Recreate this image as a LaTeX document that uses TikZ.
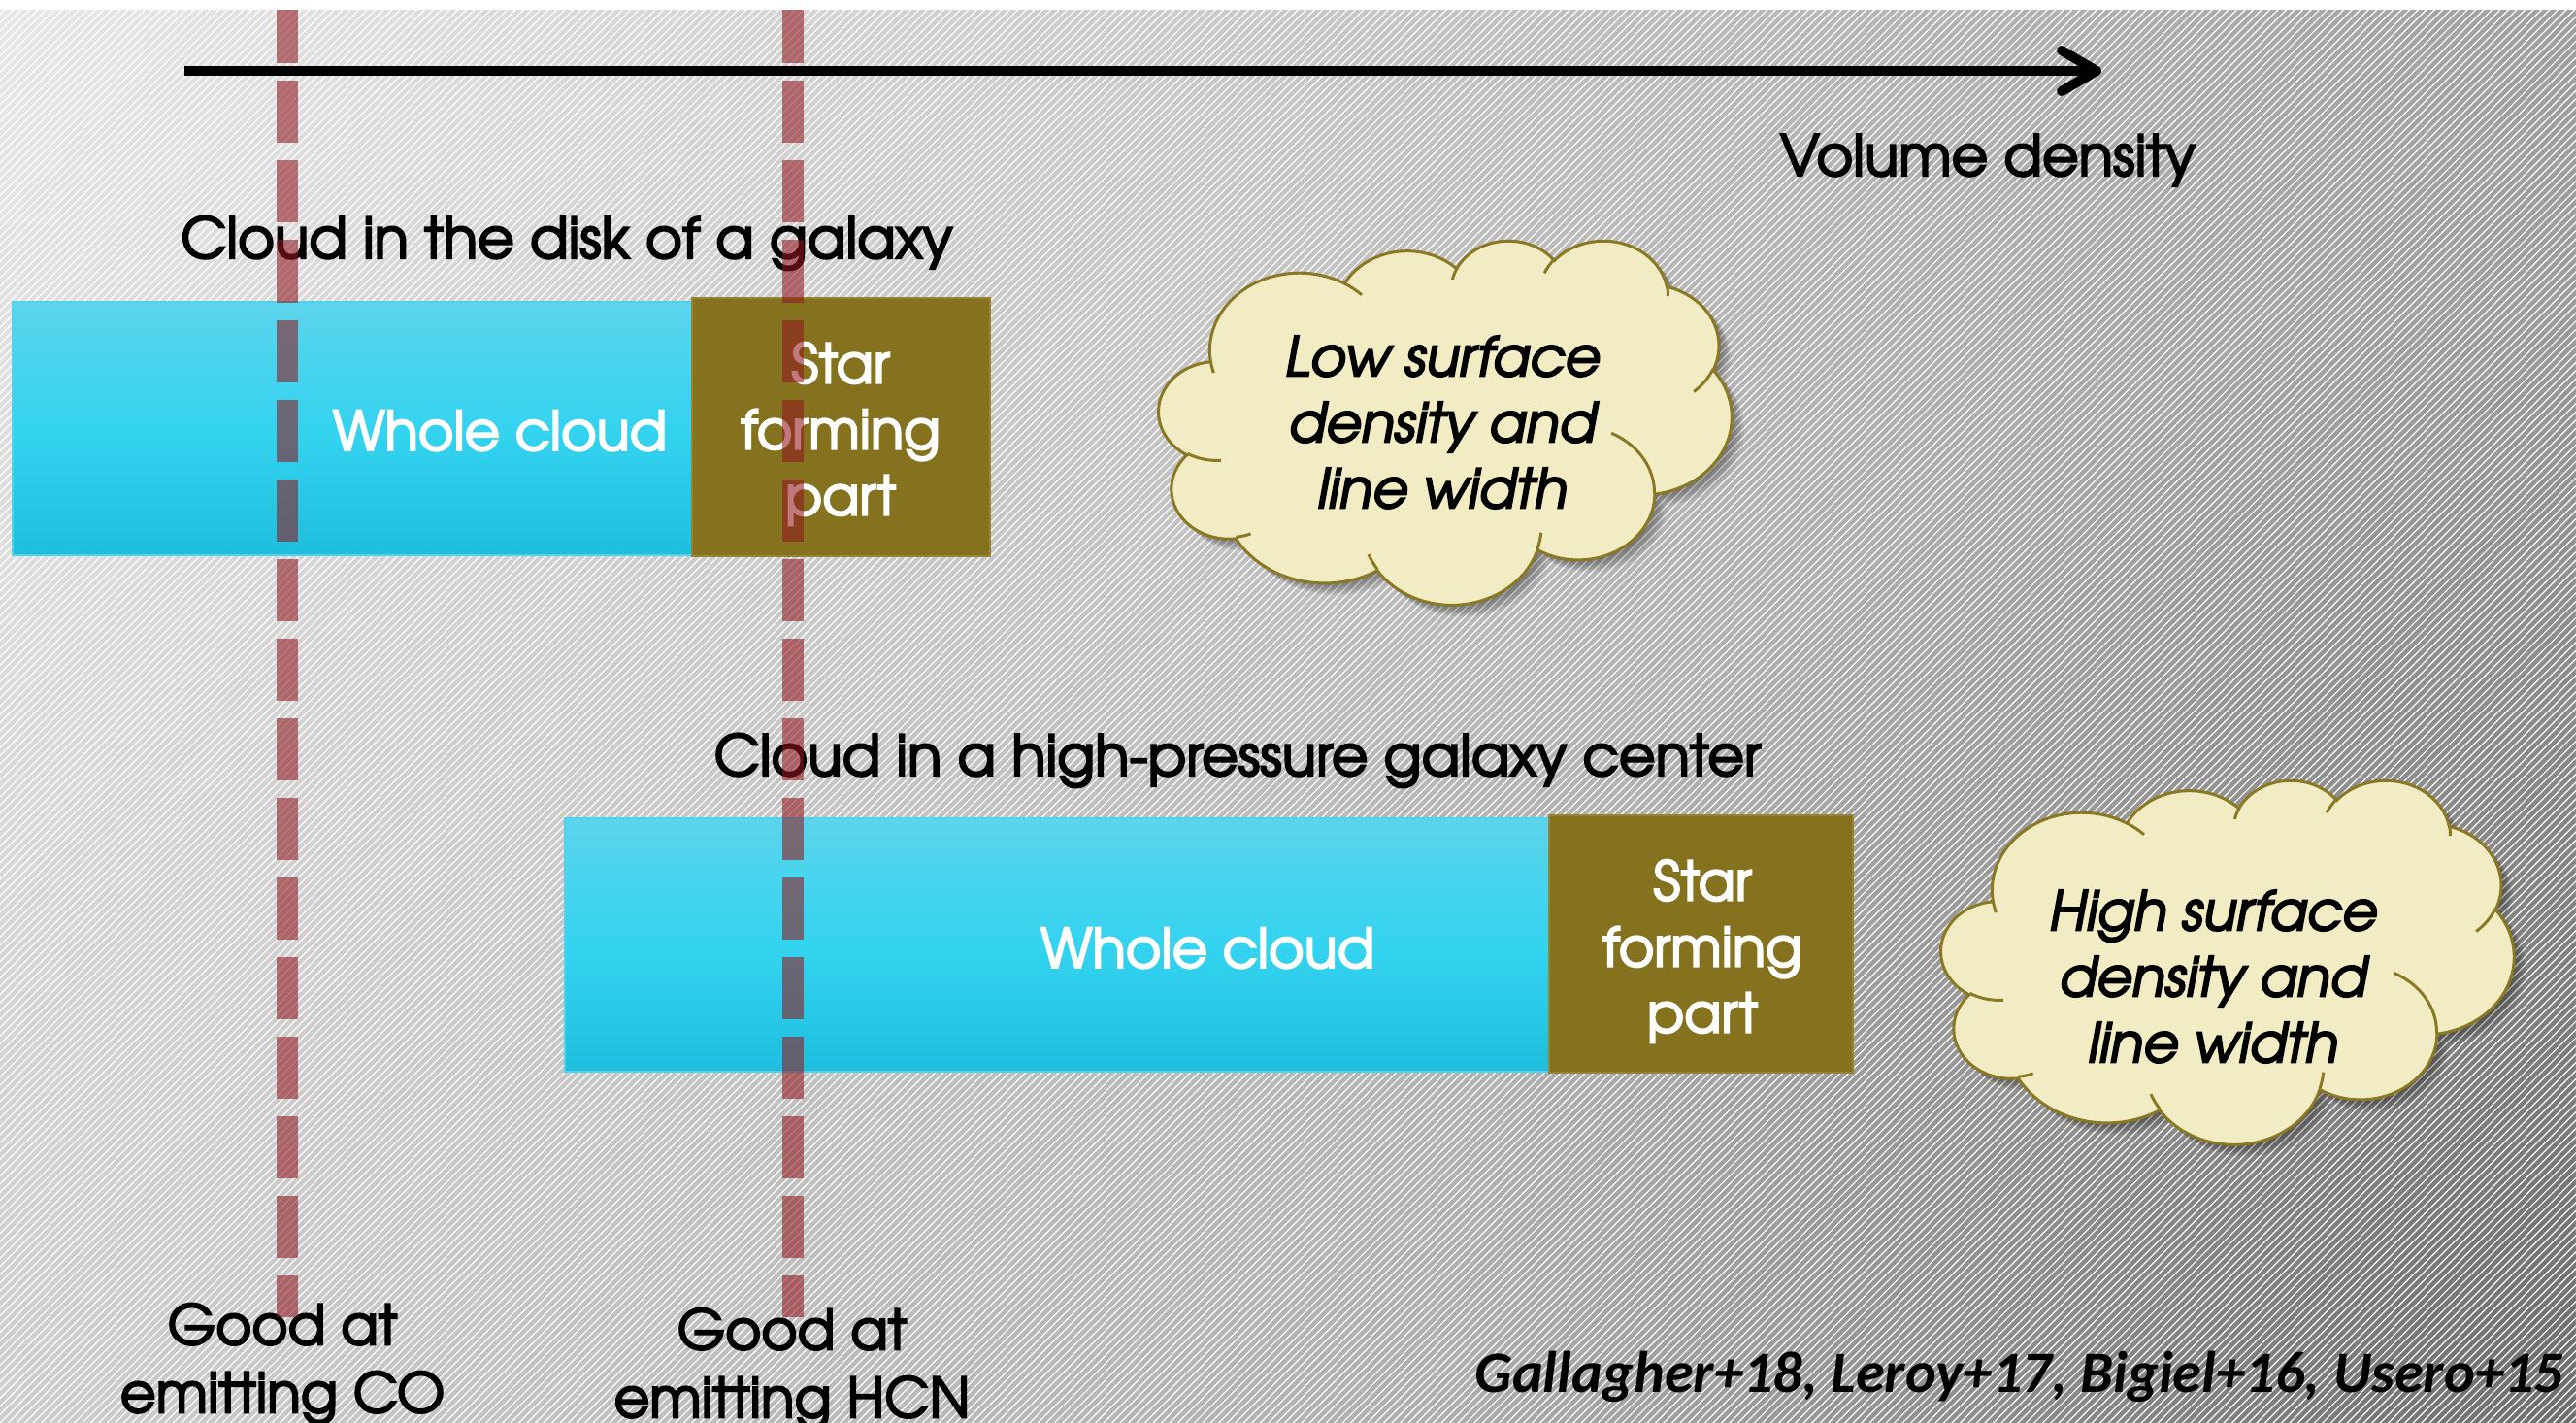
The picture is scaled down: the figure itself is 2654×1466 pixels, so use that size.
\documentclass[tikz,border=0pt]{standalone}
\usepackage{fontspec}
\setmainfont{TeX Gyre Adventor}[FakeBold=3.5]
\newfontfamily\citefont{Carlito}
\usetikzlibrary{arrows.meta,patterns.meta,fadings}

\definecolor{bgL}{RGB}{231,231,231}
\definecolor{bgM}{RGB}{200,200,200}
\definecolor{bgR}{RGB}{160,160,160}
\definecolor{cyanT}{RGB}{92,212,236}
\definecolor{cyanM}{RGB}{52,211,240}
\definecolor{cyanB}{RGB}{32,190,222}
\definecolor{cyanE}{RGB}{80,210,238}
\definecolor{olive}{RGB}{133,114,31}
\definecolor{oliveE}{RGB}{150,132,52}
\definecolor{cloudfill}{RGB}{242,236,196}
\definecolor{cloudedge}{RGB}{138,120,36}
\definecolor{guide}{RGB}{145,25,30}

\tikzfading[name=downdark, top color=transparent!100, bottom color=transparent!0]
\tikzfading[name=cornerfade, inner color=transparent!0, outer color=transparent!100]

% Cloud outline built from elliptical arcs (path space 0..432 in both directions).
% Angles are visual angles, turned into parametric ones for TikZ.
\makeatletter
\newcommand\ooarc[5]{%
  \pgfmathsetmacro\oo@a{#4}%
  \pgfmathsetmacro\oo@b{(#4)+(#5)}%
  \pgfmathsetmacro\oo@s{atan2((#2)*sin(\oo@a),(#3)*cos(\oo@a))}%
  \pgfmathsetmacro\oo@s{(\oo@s)+360*round(((\oo@a)-(\oo@s))/360)}%
  \pgfmathsetmacro\oo@e{atan2((#2)*sin(\oo@b),(#3)*cos(\oo@b))}%
  \pgfmathsetmacro\oo@e{(\oo@e)+360*round(((\oo@b)-(\oo@e))/360)}%
  \xdef#1{#1 arc[start angle=\oo@s, end angle=\oo@e, x radius=#2, y radius=#3]}%
}
\makeatother

\xdef\cloudoutline{(39,143.7)}
\ooarc\cloudoutline{67.53}{91.90}{-190.48748}{123.78053}
\ooarc\cloudoutline{53.33}{72.67}{-144.10238}{89.94523}
\ooarc\cloudoutline{43.65}{59.45}{-145.80792}{99.72302}
\ooarc\cloudoutline{48.57}{65.95}{-130.98607}{117.24173}
\ooarc\cloudoutline{53.33}{72.73}{-78.70888}{109.02692}
\ooarc\cloudoutline{67.75}{92.20}{-46.26725}{130.26900}
\ooarc\cloudoutline{57.85}{78.67}{0.62502}{114.03333}
\ooarc\cloudoutline{67.52}{92.15}{22.45160}{115.17255}
\ooarc\cloudoutline{77.20}{105.43}{66.24263}{75.71102}
\ooarc\cloudoutline{43.60}{59.18}{-274.94208}{146.73557}
\ooarc\cloudoutline{43.45}{59.45}{-246.82850}{152.51885}
\xdef\cloudoutline{\cloudoutline -- cycle}

\xdef\cloudcreases{(46.93,261.77)}
\ooarc\cloudcreases{43.45}{59.45}{86.74200}{26.42950}
\xdef\cloudcreases{\cloudcreases (69.28,348.99)}
\ooarc\cloudcreases{43.60}{59.18}{73.61047}{11.44747}
\xdef\cloudcreases{\cloudcreases (164.78,390.90)}
\ooarc\cloudcreases{67.52}{92.15}{137.62415}{14.08110}
\xdef\cloudcreases{\cloudcreases (288.27,347.51)}
\ooarc\cloudcreases{67.52}{92.15}{6.45327}{15.99835}
\xdef\cloudcreases{\cloudcreases (341.29,229.54)}
\ooarc\cloudcreases{57.85}{78.67}{-70.29235}{70.91737}
\xdef\cloudcreases{\cloudcreases (417.98,153.54)}
\ooarc\cloudcreases{53.33}{72.73}{30.31803}{27.75150}
\xdef\cloudcreases{\cloudcreases (383.24,54.26)}
\ooarc\cloudcreases{48.57}{65.95}{-13.74433}{14.85890}
\xdef\cloudcreases{\cloudcreases (290.78,39.52)}
\ooarc\cloudcreases{48.57}{65.95}{-149.18145}{18.19537}
\xdef\cloudcreases{\cloudcreases (221.41,47.20)}
\ooarc\cloudcreases{43.65}{59.45}{-163.49427}{17.68635}
\xdef\cloudcreases{\cloudcreases (140.00,51.92)}
\ooarc\cloudcreases{67.53}{91.90}{-66.70695}{12.31935}
\xdef\cloudcreases{\cloudcreases (41.27,157.89)}
\ooarc\cloudcreases{67.53}{91.90}{157.65435}{11.85817}

\tikzset{
  lbl/.style={inner sep=0pt, font=\fontsize{14.5}{17}\selectfont, text=black},
  boxlbl/.style={inner sep=0pt, font=\fontsize{14}{17}\selectfont, text=white, align=center},
  cloudlbl/.style={inner sep=0pt, font=\itshape\fontsize{14}{17}\selectfont, text=black, align=center},
  emitlbl/.style={inner sep=0pt, font=\fontsize{14.2}{17.5}\selectfont, text=black, align=center},
  cyanbox/.style={draw=cyanE, line width=0.5pt, top color=cyanT, bottom color=cyanB, middle color=cyanM, inner sep=0pt},
  olivebox/.style={draw=oliveE, line width=0.4pt, fill=olive, inner sep=0pt},
  guideline/.style={draw=guide, draw opacity=0.58, line width=5.5pt, dash pattern=on 16pt off 4.5pt},
  axisline/.style={line width=2.5pt, black, -{Straight Barb[length=9pt, width=10.5pt, line cap=round, line join=round]}},
  cloudshape/.style={draw=cloudedge, fill=cloudfill, line width=0.75pt},
}

\begin{document}
\begin{tikzpicture}[x=0.25pt, y=-0.25pt]
\useasboundingbox (0,0) rectangle (2654,1466);
\clip (0,0) rectangle (2654,1466);

% backdrop: grey gradient, darker to the right and towards the bottom-right corner
\fill[left color=bgL, right color=bgR, middle color=bgM] (0,0) rectangle (2654,1466);
\fill[black, fill opacity=0.11, path fading=downdark] (0,0) rectangle (2654,1466);
\fill[black, fill opacity=0.22, path fading=cornerfade] (2654,1466) circle[radius=1150];
\fill[pattern={Lines[angle=45, distance=1.5pt, line width=0.3pt]}, pattern color=white, fill opacity=0.12] (0,0) rectangle (2654,1466);

% density axis
\coordinate (axs) at (190,73);
\coordinate (axe) at (2165,73);
\draw[axisline] (axs) -- (axe);
\node[lbl, anchor=base] (vol) at (2048,181) {Volume density};

% cloud in a galactic disk
\node[lbl, anchor=base] (t1) at (584,266) {Cloud in the disk of a galaxy};
\node[cyanbox, minimum width=175pt, minimum height=65.25pt] (cw1) at (363,441.5) {};
\node[olivebox, minimum width=76.75pt, minimum height=66.5pt] (sf1) at (866.5,440) {};
\node[boxlbl, anchor=base] (wc1) at (515,464) {Whole cloud};
\node[boxlbl] (sl1) at (866,447) {Star\\forming\\part};

% cloud in a galaxy centre
\node[lbl, anchor=base] (t2) at (1275,799) {Cloud in a high-pressure galaxy center};
\node[cyanbox, minimum width=253.5pt, minimum height=65.25pt] (cw2) at (1089,973.5) {};
\node[olivebox, minimum width=78.25pt, minimum height=66.25pt] (sf2) at (1752.5,972.5) {};
\node[boxlbl, anchor=base] (wc2) at (1244,997) {Whole cloud};
\node[boxlbl] (sl2) at (1754,980) {Star\\forming\\part};

% thought clouds
\begin{scope}[shift={(1194,247)}, xscale=590/432, yscale=375/432]
  \foreach \k in {1,...,7}
    \fill[black, fill opacity=0.06, shift={(\k*1.3,\k*2.0)}] \cloudoutline;
  \path[cloudshape] \cloudoutline;
  \draw[cloudedge, line width=0.75pt] \cloudcreases;
\end{scope}
\node[cloudlbl] (low) at (1486,435) {Low surface\\density and\\line width};

\begin{scope}[shift={(2000,803)}, xscale=590/432, yscale=375/432]
  \foreach \k in {1,...,7}
    \fill[black, fill opacity=0.06, shift={(\k*1.3,\k*2.0)}] \cloudoutline;
  \path[cloudshape] \cloudoutline;
  \draw[cloudedge, line width=0.75pt] \cloudcreases;
\end{scope}
\node[cloudlbl] (high) at (2280,1006) {High surface\\density and\\line width};

% tracer labels and references
\node[emitlbl] (co) at (291,1405) {Good at\\emitting CO};
\node[emitlbl] (hcn) at (816,1410) {Good at\\emitting HCN};
\node[inner sep=0pt, anchor=base east, font=\citefont\bfseries\itshape\fontsize{15.1}{18}\selectfont] (refs) at (2642,1434) {Gallagher+18, Leroy+17, Bigiel+16, Usero+15};

% tracer density thresholds
\coordinate (g1a) at (296,1.5);
\coordinate (g1b) at (296,1357);
\coordinate (g2a) at (817,1.5);
\coordinate (g2b) at (817,1357);
\draw[guideline] (g1a) -- (g1b);
\draw[guideline] (g2a) -- (g2b);

% white band along the top edge
\fill[white] (0,0) rectangle (2654,10);
\end{tikzpicture}
\end{document}
